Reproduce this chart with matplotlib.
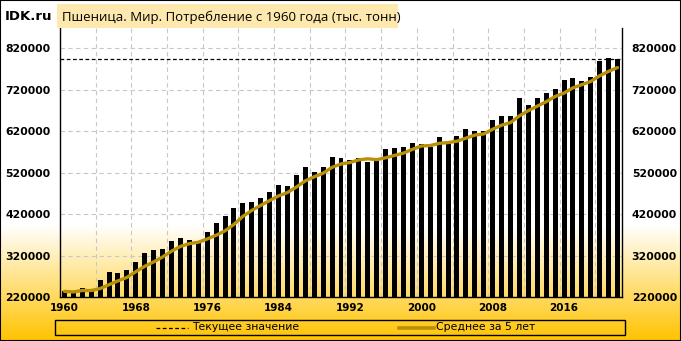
import numpy as np
import matplotlib
matplotlib.use('Agg')
import matplotlib.pyplot as plt
from matplotlib.patches import Rectangle
from matplotlib.lines import Line2D

plt.rcParams['font.family'] = ['DejaVu Sans']

# ---------------- data ----------------
years = list(range(1960, 2023))
consumption = [
    233600, 231000, 242600, 235000, 260000, 279700, 277300, 284600, 304000, 325000,
    332400, 337000, 354200, 361500, 358300, 349400, 376800, 398600, 415600, 435000,
    446400, 449600, 458600, 473900, 490900, 487700, 515100, 533800, 522400, 534500,
    558800, 555600, 550800, 554900, 546700, 549100, 577500, 579900, 582400, 592000,
    589600, 583100, 606600, 591300, 609000, 626000, 620400, 620400, 647900, 657600,
    657600, 701300, 684300, 701300, 711000, 720700, 742500, 747400, 740100, 749800,
    788600, 795900, 793400,
]
avg5 = [
    233600, 232300, 235700, 235600, 240400, 249700, 258900, 267300, 281100, 294100,
    304700, 316600, 330500, 342000, 348700, 352100, 360000, 368900, 379700, 395100,
    414500, 429000, 441000, 452700, 463900, 472100, 485200, 500300, 510000, 518700,
    532900, 541000, 544400, 550900, 553400, 551400, 555800, 561600, 567100, 576200,
    584300, 585400, 590700, 592500, 595900, 603200, 610700, 613400, 624700, 634500,
    640800, 657000, 669700, 680400, 691100, 703700, 712000, 724600, 732300, 740100,
    753700, 764400, 773600,
]
current_value = 793400
y_ticks = [220000, 320000, 420000, 520000, 620000, 720000, 820000]
x_label_years = [1960, 1968, 1976, 1984, 1992, 2000, 2008, 2016]
title_text = "Пшеница. Мир. Потребление с 1960 года (тыс. тонн)"
legend_labels = ["Текущее значение", "Среднее за 5 лет"]

# ---------------- figure ----------------
W, H = 681, 341
fig = plt.figure(figsize=(W / 100, H / 100), dpi=100)

# background gradient (white -> gold at the bottom)
bg = fig.add_axes([0, 0, 1, 1], zorder=-10)
t = np.linspace(0, 1, H)
f = np.clip((t - 0.66) / (1 - 0.66), 0, 1)
c_top = np.array([1.0, 1.0, 1.0])
c_bot = np.array([255, 195, 0]) / 255.0
grad = c_top[None, :] * (1 - f[:, None]) + c_bot[None, :] * f[:, None]
img = np.repeat(grad[:, None, :], 8, axis=1)
bg.imshow(img, aspect='auto', extent=[0, 1, 0, 1], origin='upper')
bg.set_axis_off()

GOLD = '#B8900A'

ax = fig.add_axes([60 / W, 1 - 297 / H, (622 - 60) / W, (297 - 28) / H])
ax.set_facecolor('none')
x = np.arange(len(years))
ax.bar(x, consumption, width=0.56, color='black', zorder=3)
ax.plot(x, avg5, color=GOLD, lw=2.4, solid_joinstyle='round',
        solid_capstyle='round', zorder=4)
ax.axhline(current_value, color='black', lw=0.9, ls=(0, (3, 2)), zorder=5)

ax.set_xlim(-0.5, len(years) - 0.5)
ax.set_ylim(220000, 869000)

ax.set_yticks(y_ticks)
ax.set_yticklabels([str(v) for v in y_ticks])
ax.tick_params(axis='y', length=0, labelleft=True, labelright=True, pad=7,
               labelsize=7.8)
for lab in ax.get_yticklabels():
    lab.set_fontweight('bold')

ax.set_xticks([years.index(yy) for yy in x_label_years])
ax.set_xticklabels([str(yy) for yy in x_label_years], fontweight='bold')
ax.set_xticks(np.arange(3.5, len(years) - 1, 4), minor=True)
ax.tick_params(axis='x', which='both', length=0, pad=4, labelsize=7.5)

grid_kw = dict(color='#C8C8C8', ls=(0, (4, 3)), lw=0.8)
ax.grid(which='minor', axis='x', **grid_kw)
ax.grid(which='major', axis='y', **grid_kw)
ax.grid(which='major', axis='x', visible=False)
ax.set_axisbelow(True)

ax.spines['top'].set_visible(False)
for s in ['left', 'right', 'bottom']:
    ax.spines[s].set_color('black')
    ax.spines[s].set_linewidth(1.0)

# ---------------- title ----------------
fig.text(5 / W, 1 - 17 / H, "IDK.ru", fontsize=9.5, fontweight='bold',
         va='center', ha='left')
fig.add_artist(Rectangle((57 / W, 1 - 28 / H), (398 - 57) / W, (28 - 4) / H,
                         transform=fig.transFigure, facecolor='#FDE8AD',
                         edgecolor='none', zorder=1))
fig.text(62 / W, 1 - 17 / H, title_text, fontsize=9.5, family=['Open Sans', 'DejaVu Sans'],
         va='center', ha='left', zorder=2)

# ---------------- legend ----------------
ly = 1 - 327.5 / H
fig.add_artist(Rectangle((55 / W, 1 - 335 / H), 570 / W, 15 / H,
                         transform=fig.transFigure, facecolor='none',
                         edgecolor='black', lw=1.0))
fig.add_artist(Line2D([156 / W, 188 / W], [ly, ly], transform=fig.transFigure,
                      color='black', lw=0.9, ls=(0, (3, 2))))
fig.text(192 / W, ly, legend_labels[0], fontsize=7.8, va='center', ha='left')
fig.add_artist(Line2D([399 / W, 434 / W], [ly, ly], transform=fig.transFigure,
                      color=GOLD, lw=2.6))
fig.text(436 / W, ly, legend_labels[1], fontsize=7.8, va='center', ha='left')

# figure border
fig.add_artist(Rectangle((0, 0), 1, 1, transform=fig.transFigure, fill=False,
                         edgecolor='black', lw=1.5))

fig.savefig('out.png', dpi=100)
